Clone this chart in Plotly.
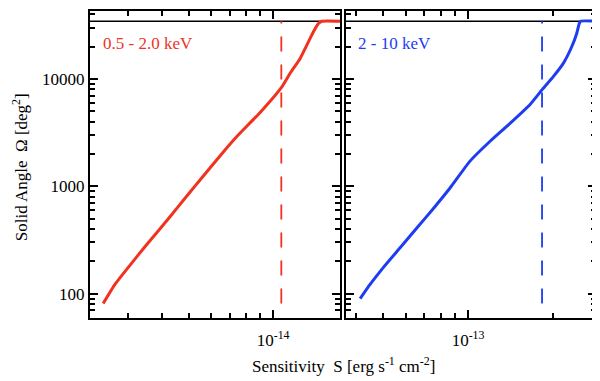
import plotly.graph_objects as go
from plotly.subplots import make_subplots

# 0.5 - 2.0 keV band (sensitivity in erg s^-1 cm^-2, solid angle in deg^2)
soft_s = [2.45e-15, 2.70e-15, 3.01e-15, 3.46e-15, 3.99e-15, 4.55e-15, 5.03e-15,
          5.46e-15, 6.61e-15, 7.42e-15, 8.98e-15, 1.077e-14, 1.151e-14, 1.251e-14,
          1.322e-14, 1.396e-14, 1.455e-14, 1.497e-14, 1.741e-14]
soft_omega = [81, 122, 175, 274, 424, 643, 885, 1144, 2078, 2922, 4875, 8487,
              11270, 15510, 20640, 27420, 32720, 34440, 34440]

# 2 - 10 keV band
hard_s = [4.14e-14, 4.49e-14, 5.00e-14, 5.74e-14, 6.59e-14, 7.51e-14, 8.63e-14,
          1.016e-13, 1.197e-13, 1.409e-13, 1.66e-13, 1.845e-13, 2.006e-13, 2.177e-13,
          2.332e-13, 2.429e-13, 2.48e-13, 2.51e-13, 2.843e-13]
hard_omega = [90, 122, 175, 268, 411, 616, 965, 1716, 2627, 3856, 5781, 8133,
              10500, 13950, 19910, 26440, 32720, 34440, 34440]

full_area = 34440
soft_limit = 1.07e-14
hard_limit = 1.83e-13
limit_omega = [81, 34440]

soft_range = [2.197e-15, 1.741e-14]
hard_range = [3.68e-14, 2.843e-13]

y_major = [100, 1000, 10000]
y_minor = [60, 70, 80, 90, 200, 300, 400, 500, 600, 700, 800, 900,
           2000, 3000, 4000, 5000, 6000, 7000, 8000, 9000, 20000, 30000, 40000]
soft_major = [1e-14]
soft_minor = [3e-15, 4e-15, 5e-15, 6e-15, 7e-15, 8e-15, 9e-15]
hard_major = [1e-13]
hard_minor = [4e-14, 5e-14, 6e-14, 7e-14, 8e-14, 9e-14, 2e-13]

RED = '#f0321e'
BLUE = '#1e3cf0'
FONT = 'Liberation Serif'

fig = make_subplots(rows=1, cols=2, shared_yaxes=True, horizontal_spacing=0.0112)

for col, s, om, lim, rng, color in [
        (1, soft_s, soft_omega, soft_limit, soft_range, RED),
        (2, hard_s, hard_omega, hard_limit, hard_range, BLUE)]:
    fig.add_trace(go.Scatter(x=rng, y=[full_area, full_area], mode='lines',
                             line=dict(color='black', width=1.5),
                             showlegend=False), row=1, col=col)
    fig.add_trace(go.Scatter(x=[lim, lim], y=limit_omega, mode='lines',
                             line=dict(color=color, width=1.8, dash='15px,13px'),
                             showlegend=False), row=1, col=col)
    fig.add_trace(go.Scatter(x=s, y=om, mode='lines',
                             line=dict(color=color, width=3, shape='spline', smoothing=0.5),
                             showlegend=False), row=1, col=col)

axis_style = dict(type='log', showline=True, linewidth=2, linecolor='black',
                  mirror='allticks', ticks='inside', ticklen=8, tickwidth=1.5,
                  tickcolor='black', showgrid=False, zeroline=False,
                  tickfont=dict(family=FONT, size=17, color='black'))

fig.update_xaxes(axis_style)
fig.update_yaxes(axis_style)

fig.update_xaxes(range=[-14.6583, -13.759], tickmode='array', tickvals=soft_major,
                 ticktext=['10<sup>-14</sup>'], ticklabelstandoff=6,
                 minor=dict(tickmode='array', tickvals=soft_minor, ticks='inside',
                            ticklen=5, tickwidth=1.5, tickcolor='black', showgrid=False),
                 row=1, col=1)
fig.update_xaxes(range=[-13.4337, -12.5461], tickmode='array', tickvals=hard_major,
                 ticktext=['10<sup>-13</sup>'], ticklabelstandoff=6,
                 minor=dict(tickmode='array', tickvals=hard_minor, ticks='inside',
                            ticklen=5, tickwidth=1.5, tickcolor='black', showgrid=False),
                 row=1, col=2)
fig.update_yaxes(range=[1.774, 4.632], tickmode='array', tickvals=y_major,
                 ticktext=[str(v) for v in y_major],
                 minor=dict(tickmode='array', tickvals=y_minor, ticks='inside',
                            ticklen=5, tickwidth=1.5, tickcolor='black', showgrid=False))
fig.update_yaxes(showticklabels=False, row=1, col=2)

# the page body adds an 8px margin, so the figure is 8px smaller each way
fig.update_layout(
    width=592, height=373,
    margin=dict(l=82, r=4, t=1, b=63),
    paper_bgcolor='white', plot_bgcolor='white',
    font=dict(family=FONT, size=17, color='black'),
    annotations=[
        dict(text='0.5 - 2.0 keV', x=0.022, y=0.895, xref='paper', yref='paper',
             xanchor='left', yanchor='middle', showarrow=False,
             font=dict(family=FONT, size=17, color=RED)),
        dict(text='2 - 10 keV', x=0.526, y=0.895, xref='paper', yref='paper',
             xanchor='left', yanchor='middle', showarrow=False,
             font=dict(family=FONT, size=17, color=BLUE)),
        dict(text='Sensitivity  S [erg s<sup>-1</sup> cm<sup>-2</sup>]', x=0.50, y=-0.152,
             xref='paper', yref='paper', xanchor='center', yanchor='middle',
             showarrow=False, font=dict(family=FONT, size=17)),
        dict(text='Solid Angle  \u03a9 [deg<sup>2</sup>]', x=-0.139, y=0.49,
             xref='paper', yref='paper', xanchor='center', yanchor='middle',
             textangle=-90, showarrow=False, font=dict(family=FONT, size=17)),
    ],
)

fig.write_html("out.html")
